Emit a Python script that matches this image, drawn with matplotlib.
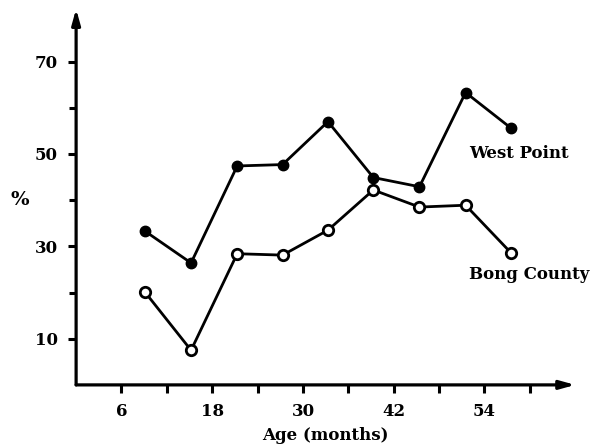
import matplotlib.pyplot as plt

# Datos
edad = [9.1, 15.2, 21.3, 27.3, 33.3, 39.3, 45.4, 51.5, 57.5]
west_point = [33.3, 26.4, 47.4, 47.7, 57.0, 44.9, 42.9, 63.3, 55.6]
bong_county = [20.1, 7.5, 28.4, 28.1, 33.5, 42.2, 38.5, 38.9, 28.6]
xticks = [6, 18, 30, 42, 54]
xticks_menores = [12, 24, 36, 48, 60]
yticks = [10, 30, 50, 70]
yticks_menores = [20, 40, 60]

plt.rcParams['font.family'] = ['DejaVu Serif']
plt.rcParams['font.weight'] = 'bold'

fig = plt.figure(figsize=(5.9, 4.46), dpi=100)
ax = fig.add_axes([0.129, 0.137, 0.846, 0.843])

ax.plot(edad, west_point, color='black', lw=2.0, marker='o', ms=7.5,
        mfc='black', mec='black', zorder=3)
ax.plot(edad, bong_county, color='black', lw=2.0, marker='o', ms=7.5,
        mfc='white', mec='black', mew=2.0, zorder=3)

ax.set_xlim(0, 66)
ax.set_ylim(0, 81.4)
for s in ax.spines.values():
    s.set_visible(False)

# ejes con flecha
flecha = dict(arrowstyle='-|>,head_length=0.9,head_width=0.25',
              color='black', lw=2.3, shrinkA=0, shrinkB=0)
ax.annotate('', xy=(1, 0), xytext=(0, 0), xycoords='axes fraction', arrowprops=flecha)
ax.annotate('', xy=(0, 1), xytext=(0, 0), xycoords='axes fraction', arrowprops=flecha)

ax.set_xticks(xticks)
ax.set_xticks(xticks_menores, minor=True)
ax.set_yticks(yticks)
ax.set_yticks(yticks_menores, minor=True)
ax.tick_params(which='both', direction='out', width=2.2, length=6, labelsize=12, pad=7)
ax.tick_params(axis='y', which='minor', length=5)

ax.set_xlabel('Age (months)', fontsize=12, fontweight='bold', labelpad=5)
fig.text(0.034, 0.552, '%', fontsize=14, fontweight='bold', ha='center', va='center')

ax.text(58.5, 50.0, 'West Point', fontsize=12, fontweight='bold', ha='center', va='center')
ax.text(59.9, 23.8, 'Bong County', fontsize=12, fontweight='bold', ha='center', va='center')

fig.savefig('out.png', dpi=100)
